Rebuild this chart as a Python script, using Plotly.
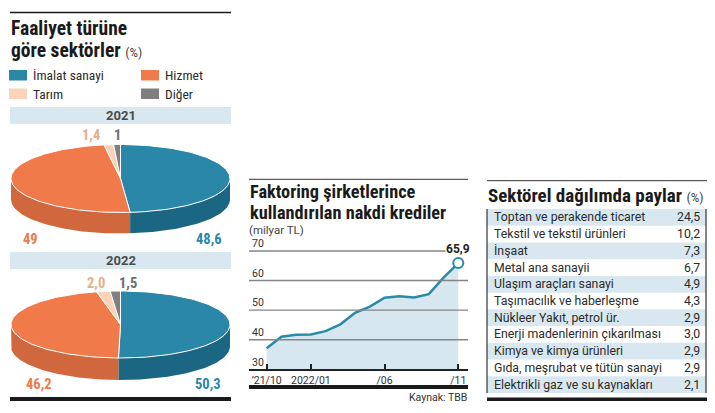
import numpy as np
import plotly.graph_objects as go

W, H = 715, 413

# ---------------- data ----------------
sectors = ["İmalat sanayi", "Hizmet", "Tarım", "Diğer"]
share_2021 = [48.6, 49.0, 1.4, 1.0]
share_2021_text = ["48,6", "49", "1,4", "1"]
share_2022 = [50.3, 46.2, 2.0, 1.5]
share_2022_text = ["50,3", "46,2", "2,0", "1,5"]

months = ["2021-10", "2021-11", "2021-12", "2022-01", "2022-02", "2022-03", "2022-04",
          "2022-05", "2022-06", "2022-07", "2022-08", "2022-09", "2022-10", "2022-11"]
credit = [37.1, 41.0, 41.7, 41.8, 42.9, 45.2, 49.1, 51.2, 54.2, 54.7, 54.3, 55.4, 61.0, 65.9]
month_ticks = ["2021-10", "2022-01", "2022-06", "2022-11"]
month_ticktext = ["’21/10", "2022/01", "/06", "/11"]
credit_ticks = [30, 40, 50, 60, 70]

table_sectors = ["Toptan ve perakende ticaret", "Tekstil ve tekstil ürünleri", "İnşaat",
                 "Metal ana sanayii", "Ulaşım araçları sanayi", "Taşımacılık ve haberleşme",
                 "Nükleer Yakıt, petrol ür.", "Enerji madenlerinin çıkarılması",
                 "Kimya ve kimya ürünleri", "Gıda, meşrubat ve tütün sanayi",
                 "Elektrikli gaz ve su kaynakları"]
table_shares = [24.5, 10.2, 7.3, 6.7, 4.9, 4.3, 2.9, 3.0, 2.9, 2.9, 2.1]

# ---------------- style ----------------
TOP = ["#2a87a8", "#f07a4a", "#fad3b8", "#7f7f7f"]
SIDE = ["#1b6682", "#d0673d", "#e0b79b", "#666666"]
LABEL = ["#2a87a8", "#f07a4a", "#e4b08c", "#6e6e6e"]
BAND = "#d9e8f0"
DARK = "#1a1a1a"
TXT = "#2b2b2b"
COND = "Roboto Condensed, Liberation Sans Narrow, DejaVu Sans Condensed, sans-serif"
REG = "Roboto, Noto Sans, sans-serif"
LINEC = "#2a8aa8"

# line-chart frame (pixels) and value range
LX0, LX1 = 249, 468
LY_BOT, LY_TOP = 369.3, 233.0
Y_MIN = 30
Y_MAX = 30 + (LY_BOT - LY_TOP) * 10 / 29.58


def px(x):
    return x / W


def py(y):
    return 1 - y / H


def ann(x, y, text, size, color=TXT, xanchor="left", yanchor="middle", family=COND, **kw):
    d = dict(x=px(x), y=py(y), xref="paper", yref="paper", text=text, showarrow=False,
             xanchor=xanchor, yanchor=yanchor, font=dict(size=size, color=color, family=family),
             borderpad=0)
    d.update(kw)
    return d


def rect(x0, y0, x1, y1, color, layer="below"):
    return dict(type="rect", xref="paper", yref="paper", x0=px(x0), x1=px(x1), y0=py(y0), y1=py(y1),
                fillcolor=color, line=dict(width=0), layer=layer)


def hline(x0, x1, y, color, width, layer="above"):
    return dict(type="line", xref="paper", yref="paper", x0=px(x0), x1=px(x1), y0=py(y), y1=py(y),
                line=dict(color=color, width=width), layer=layer)


def vline(x, y0, y1, color, width):
    return dict(type="line", xref="paper", yref="paper", x0=px(x), x1=px(x), y0=py(y0), y1=py(y1),
                line=dict(color=color, width=width), layer="above")


fig = go.Figure()


def pie3d(shares, cx, cy, a, b, depth):
    tot = float(sum(shares))
    cum = np.concatenate([[0], np.cumsum(shares)]) / tot * 360.0
    # side walls (front half only)
    for i in range(len(shares)):
        lo, hi = max(cum[i], 90), min(cum[i + 1], 270)
        if hi > lo:
            phi = np.radians(np.linspace(lo, hi, 80))
            xs = cx + a * np.sin(phi)
            ys = cy - b * np.cos(phi)
            fig.add_trace(go.Scatter(x=np.concatenate([xs, xs[::-1]]),
                                     y=np.concatenate([ys, ys[::-1] + depth]),
                                     fill="toself", fillcolor=SIDE[i], mode="lines",
                                     line=dict(width=0), xaxis="x2", yaxis="y2",
                                     hoverinfo="skip", showlegend=False))
    # top surface
    for i in range(len(shares)):
        n = max(3, int((cum[i + 1] - cum[i]) / 1.5) + 2)
        phi = np.radians(np.linspace(cum[i], cum[i + 1], n))
        xs = np.concatenate([[cx], cx + a * np.sin(phi), [cx]])
        ys = np.concatenate([[cy], cy - b * np.cos(phi), [cy]])
        fig.add_trace(go.Scatter(x=xs, y=ys, fill="toself", fillcolor=TOP[i], mode="lines",
                                 line=dict(width=1, color="white"), xaxis="x2", yaxis="y2",
                                 hoverinfo="skip", showlegend=False))


pie3d(share_2021, 120.5, 178.5, 109.5, 34, 21)
pie3d(share_2022, 120.5, 324.5, 109.5, 33.5, 22)

# ---------------- line chart ----------------
fig.add_trace(go.Scatter(x=months, y=credit, mode="lines", line=dict(color=LINEC, width=2.5),
                         fill="tozeroy", fillcolor="#d6e7f0",
                         hoverinfo="skip", showlegend=False))
fig.add_trace(go.Scatter(x=[months[-1]], y=[credit[-1]], mode="markers",
                         marker=dict(size=10, color="white", line=dict(color=LINEC, width=2)),
                         cliponaxis=False, hoverinfo="skip", showlegend=False))

shapes = []
annotations = []

# gridlines of the line chart at the y-axis tick values
for v in credit_ticks[1:]:
    shapes.append(dict(type="line", xref="x domain", yref="y", x0=0, x1=1, y0=v, y1=v,
                       line=dict(color="#858585", width=1.4), layer="above"))

# ---------------- left panel ----------------
shapes.append(hline(10, 231, 12.5, DARK, 1.5))
annotations.append(ann(10, 29, "<b>Faaliyet türüne</b>", 19.5, "#1a1a1a"))
annotations.append(ann(10, 50.5, "<b>göre sektörler</b> <span style='font-size:13.5px;color:#444'>(%)</span>",
                       19.5, "#1a1a1a"))
leg_pos = [(9, 75), (141, 75), (9, 93.5), (141, 93.5)]
for i, name in enumerate(sectors):
    x, y = leg_pos[i]
    shapes.append(rect(x, y - 5, x + 18, y + 5.5, TOP[i]))
    annotations.append(ann(x + 23, y, name, 13.5, TXT))

for yb, yr in [(107, "2021"), (252, "2022")]:
    shapes.append(rect(10, yb, 231, yb + 17, BAND))
    annotations.append(ann(120.5, yb + 8.5, "<b>" + yr + "</b>", 13, "#4a4a4a", xanchor="center",
                           family=REG))

lab21 = [(209, 239), (31, 239), (91, 135), (117, 135)]
lab22 = [(208, 384), (39, 384), (96, 283), (128, 283)]
for i in range(4):
    annotations.append(ann(lab21[i][0], lab21[i][1], "<b>" + share_2021_text[i] + "</b>", 14.5,
                           LABEL[i], xanchor="center"))
    annotations.append(ann(lab22[i][0], lab22[i][1], "<b>" + share_2022_text[i] + "</b>", 14.5,
                           LABEL[i], xanchor="center"))
shapes.append(rect(10, 397, 231, 401, DARK, "above"))

# ---------------- middle panel ----------------
shapes.append(hline(LX0, LX1, 179.3, "#333", 1))
annotations.append(ann(249, 191.5, "<b>Faktoring şirketlerince</b>", 18.3, "#1a1a1a"))
annotations.append(ann(249, 212, "<b>kullandırılan nakdi krediler</b>", 18.3, "#1a1a1a"))
annotations.append(ann(248, 230, "(milyar TL)", 11.5, "#444", family=REG))
annotations.append(dict(x=months[-1], y=70, xref="x", yref="y", yshift=2,
                        text="<b>" + f"{credit[-1]:.1f}".replace(".", ",") + "</b>",
                        showarrow=False, xanchor="center", yanchor="middle", bgcolor="white",
                        borderpad=0, font=dict(size=12, color="#222", family=REG)))
shapes.append(rect(LX0, 385, LX1, 389, DARK, "above"))
annotations.append(ann(468, 397, "Kaynak: TBB", 10.5, "#333", xanchor="right", family=REG))

# ---------------- right panel ----------------
shapes.append(hline(487, 707, 180.7, "#333", 1))
annotations.append(ann(487, 195, "<b>Sektörel dağılımda paylar</b> <span style='font-size:13.5px;color:#444'>(%)</span>",
                       19, "#1a1a1a"))
t0, t1 = 209.0, 393.0
rh = (t1 - t0) / len(table_sectors)
for i, (name, v) in enumerate(zip(table_sectors, table_shares)):
    ytop = t0 + i * rh
    if i % 2 == 0:
        shapes.append(rect(487, ytop, 706, ytop + rh, BAND))
    yc = ytop + rh / 2
    annotations.append(ann(492.5, yc, name, 12.3, TXT, family=REG))
    annotations.append(ann(701, yc, f"{v:.1f}".replace(".", ","), 12.3, TXT, xanchor="right", family=REG))
shapes.append(vline(487, t0, t1, "#333", 1.2))
shapes.append(vline(706, t0, t1, "#333", 1.2))
shapes.append(rect(487, 397.5, 707, 401, DARK, "above"))

fig.update_layout(
    width=W, height=H, margin=dict(l=0, r=0, t=0, b=0),
    paper_bgcolor="white", plot_bgcolor="rgba(0,0,0,0)",
    showlegend=False, shapes=shapes, annotations=annotations,
    font=dict(family=REG, color=TXT),
    xaxis=dict(type="category", categoryorder="array", categoryarray=months,
               domain=[px(LX0), px(LX1)], range=[-1.2, 13.66], anchor="y",
               tickvals=month_ticks, ticktext=month_ticktext, ticks="inside", ticklen=5,
               tickcolor="#222", tickwidth=1.5, showline=True, linecolor="#222", linewidth=2,
               showgrid=False, zeroline=False, tickfont=dict(size=10.5, color="#333", family=REG),
               fixedrange=True, layer="above traces"),
    yaxis=dict(domain=[py(LY_BOT), py(LY_TOP)], range=[Y_MIN, Y_MAX], anchor="x",
               tickvals=credit_ticks, ticklabelposition="inside top", showgrid=False,
               zeroline=False, showline=False, ticks="",
               tickfont=dict(size=10.5, color="#333", family=REG), fixedrange=True),
    xaxis2=dict(domain=[0, 1], range=[0, W], visible=False, fixedrange=True, anchor="y2"),
    yaxis2=dict(domain=[0, 1], range=[H, 0], visible=False, fixedrange=True, anchor="x2"),
)

fig.write_html("out.html", config={"displayModeBar": False},
               post_script="document.body.style.margin='0';document.body.style.overflow='hidden';")
